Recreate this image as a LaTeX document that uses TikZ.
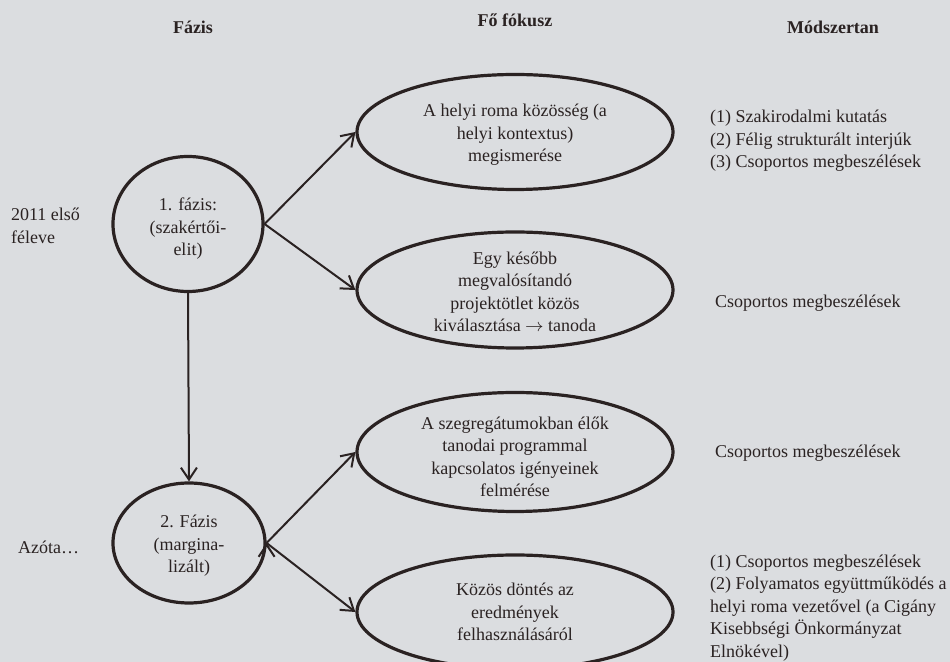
\documentclass[tikz,border=0pt]{standalone}
\usepackage{fontspec}
\setmainfont{Liberation Serif}
\usetikzlibrary{shapes.geometric,arrows.meta,positioning}
\definecolor{paper}{RGB}{219,221,224}
\definecolor{ink}{RGB}{42,34,34}

\begin{document}
\begin{tikzpicture}[x=0.5pt,y=-0.5pt,>={Straight Barb[length=6pt,width=8pt]},
  every node/.style={font=\fontsize{9}{11.25}\selectfont,text=ink},
  main node/.style={ellipse,draw=ink,line width=1.6pt,inner sep=0pt},
  head/.style={font=\fontsize{9}{11.25}\selectfont\bfseries},
  txt/.style={align=center},
  meth/.style={anchor=west,align=left}]
  \fill[paper] (0,0) rectangle (950,662);
  \useasboundingbox (0,0) rectangle (950,662);

  % column heads
  \node[head] (h1) at (193,27) {Fázis};
  \node[head] (h2) at (515,20) {Fő fókusz};
  \node[head] (h3) at (833,27) {Módszertan};

  % phases
  \node[main node,minimum width=75pt,minimum height=67.5pt] (1) at (188,224) {};
  \node[main node,minimum width=76pt,minimum height=60pt] (2) at (189,543) {};
  \node[txt] (t1) at (188,229) {1. fázis:\\(szakértői-\\elit)};
  \node[txt] (t2) at (189,546) {2. Fázis\\(margina-\\lizált)};
  \node[meth] (d1) at (4,226) {2011 első\\féleve};
  \node[meth] (d2) at (11,547) {Azóta\dots};

  % focus
  \node[main node,minimum width=158pt,minimum height=57.5pt] (3) at (515,132) {};
  \node[main node,minimum width=158pt,minimum height=58pt] (4) at (515,290) {};
  \node[main node,minimum width=158pt,minimum height=59.5pt] (5) at (515,452) {};
  \node[main node,minimum width=158pt,minimum height=57pt] (6) at (515,612) {};
  \node[txt] (f1) at (515,135) {A helyi roma közösség (a\\helyi kontextus)\\megismerése};
  \node[txt] (f2) at (515,292) {Egy később\\megvalósítandó\\projektötlet közös\\kiválasztása $\rightarrow$ tanoda};
  \node[txt] (f3) at (515,457) {A szegregátumokban élők\\tanodai programmal\\kapcsolatos igényeinek\\felmérése};
  \node[txt] (f4) at (515,612) {Közös döntés az\\eredmények\\felhasználásáról};

  % methods
  \node[meth] (m1) at (703,141) {(1) Szakirodalmi kutatás\\(2) Félig strukturált interjúk\\(3) Csoportos megbeszélések};
  \node[meth] (m2) at (708,303) {Csoportos megbeszélések};
  \node[meth] (m3) at (708,453) {Csoportos megbeszélések};
  \node[meth] (m4) at (703,608) {(1) Csoportos megbeszélések\\(2) Folyamatos együttműködés a\\helyi roma vezetővel (a Cigány\\Kisebbségi Önkormányzat\\Elnökével)};

  \path[->,draw=ink,line width=1pt]
    (1.east) edge (3.west)
    (1.east) edge (4.west)
    (1.south) edge (2.north)
    (2.east) edge (5.west)
    (2.east) edge (6.west)
  ;
\end{tikzpicture}
\end{document}
